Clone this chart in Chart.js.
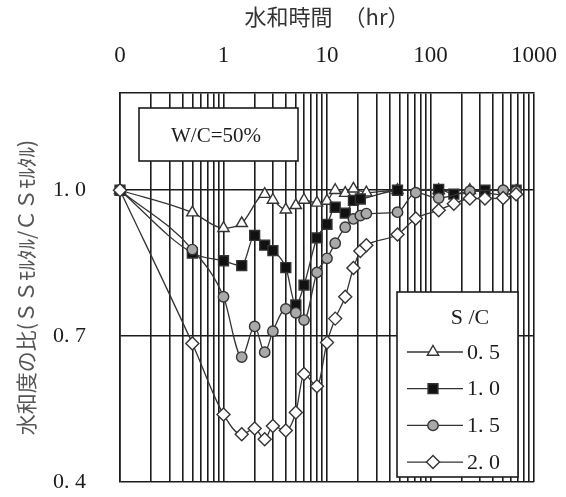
<!DOCTYPE html>
<html>
<head>
<meta charset="utf-8">
<script src="https://cdn.jsdelivr.net/npm/chart.js"></script>
<style>
  html, body { margin: 0; padding: 0; background: #fff; }
  #wrap { width: 566px; height: 497px; }
</style>
</head>
<body>
<div id="wrap"><canvas id="chart"></canvas></div>
<script>
// hydration time (hr); the 0 hour point sits on the left edge of the log axis
const hours = [0, 0.5, 1, 1.5, 2, 2.5, 3, 4, 5, 6, 8, 10, 12, 15, 18, 21, 24, 48, 72, 120, 168, 240, 336, 504, 672];
const ZERO_AT = 0.1;

// hydration degree ratio (SS mortar / CS mortar), null = no marker
const sc05 = [1.0, 0.954, 0.922, 0.932, null, 0.992, 0.980, 0.960, 0.969, 0.980, 0.974, 0.978, 1.0, 0.994, 1.003, null, 0.995, 1.0, null, 1.0, null, 1.0, null, 0.99, 0.998];
const sc10 = [1.0, 0.871, 0.855, 0.845, 0.907, 0.887, 0.876, 0.841, 0.764, 0.805, 0.902, 0.930, 0.965, 0.953, 0.979, 0.982, null, 1.0, null, 1.002, 0.992, null, 1.0, null, 1.0];
const sc15 = [1.0, 0.878, 0.781, 0.657, 0.720, 0.667, 0.710, 0.756, 0.748, 0.733, 0.831, 0.860, 0.891, 0.924, 0.941, 0.948, 0.952, 0.955, 0.995, 0.984, null, 0.998, null, 1.0, 0.998];
const sc20 = [1.0, 0.685, 0.539, 0.498, 0.510, 0.488, 0.515, 0.506, 0.543, 0.622, 0.597, 0.687, 0.736, 0.781, 0.840, 0.875, 0.887, 0.909, 0.942, 0.959, 0.972, 0.983, 0.983, 0.984, 0.992];

const seriesLabels = ['0. 5', '1. 0', '1. 5', '2. 0'];
const xTicks = [0.1, 1, 10, 100, 1000];
const xTickLabels = ['0', '1', '10', '100', '1000'];
const yTicks = [0.4, 0.7, 1.0];
const yTickLabels = ['0. 4', '0. 7', '1. 0'];
const xTitle = '水和時間　（hr）';
const yTitle = '水和度の比(ＳＳﾓﾙﾀﾙ/ＣＳﾓﾙﾀﾙ)';
const noteText = 'W/C=50%';
const legendTitle = 'S /C';

const SERIF = "'Liberation Serif', 'DejaVu Serif', serif";
const CJK = "'Noto Sans CJK JP', 'Noto Sans', sans-serif";
const INK = '#1c1c1c';

function toPoints(values) {
    return hours
        .map((h, i) => ({ x: h === 0 ? ZERO_AT : h, y: values[i] }))
        .filter(p => p.y !== null);
}

// every 1..9 x 10^n line of the log grid
function logGrid(min, max) {
    const out = [];
    for (let d = min; d < max; d *= 10) {
        for (let m = 1; m < 10; m++) out.push(m * d);
    }
    out.push(max);
    return out;
}

function makeSeries(label, values, style, radius, fill, order) {
    return {
        label,
        data: toPoints(values),
        borderColor: '#333',
        borderWidth: 1.3,
        cubicInterpolationMode: 'monotone',
        pointStyle: style,
        pointRadius: radius,
        pointBackgroundColor: fill,
        pointBorderColor: '#333',
        pointBorderWidth: 1.4,
        clip: false,
        order
    };
}

// boxes drawn over the grid: the W/C note and the S/C legend
const boxPlugin = {
    id: 'boxes',
    afterDraw(chart) {
        const ctx = chart.ctx;
        ctx.save();
        ctx.lineWidth = 1.6;
        ctx.strokeStyle = INK;
        ctx.fillStyle = '#fff';
        ctx.fillRect(139, 108, 159, 53);
        ctx.strokeRect(139, 108, 159, 53);
        ctx.fillStyle = INK;
        ctx.font = `21px ${SERIF}`;
        ctx.textAlign = 'center';
        ctx.textBaseline = 'middle';
        ctx.fillText(noteText, 216, 136);

        ctx.fillStyle = '#fff';
        ctx.fillRect(397, 292, 121, 185);
        ctx.strokeRect(397, 292, 121, 185);
        ctx.fillStyle = INK;
        ctx.font = `22px ${SERIF}`;
        ctx.fillText(legendTitle, 470, 318);

        chart.data.datasets.forEach((ds, i) => {
            const y = 352 + i * 36.7;
            ctx.strokeStyle = ds.borderColor;
            ctx.lineWidth = ds.borderWidth;
            ctx.beginPath();
            ctx.moveTo(407, y);
            ctx.lineTo(463, y);
            ctx.stroke();
            ctx.fillStyle = ds.pointBackgroundColor;
            ctx.strokeStyle = ds.pointBorderColor;
            ctx.lineWidth = ds.pointBorderWidth;
            Chart.helpers.drawPoint(ctx, {
                pointStyle: ds.pointStyle, radius: ds.pointRadius,
                rotation: 0, borderWidth: ds.pointBorderWidth
            }, 433, y);
            ctx.fillStyle = INK;
            ctx.textAlign = 'left';
            ctx.font = `22px ${SERIF}`;
            ctx.fillText(ds.label, 467, y + 1);
        });
        ctx.restore();
    }
};

new Chart(document.getElementById('chart'), {
    type: 'line',
    data: {
        datasets: [
            makeSeries(seriesLabels[0], sc05, 'triangle', 6.5, '#fff', 3),
            makeSeries(seriesLabels[1], sc10, 'rect', 7, '#111', 2),
            makeSeries(seriesLabels[2], sc15, 'circle', 5.2, '#a9a9a9', 1),
            makeSeries(seriesLabels[3], sc20, 'rectRot', 6.5, '#fff', 0)
        ]
    },
    options: {
        responsive: true,
        maintainAspectRatio: false,
        animation: false,
        layout: { padding: { left: 0, right: 32, top: 0, bottom: 15 } },
        plugins: {
            legend: { display: false },
            tooltip: { enabled: false }
        },
        scales: {
            x: {
                type: 'logarithmic',
                position: 'top',
                min: 0.1,
                max: 1000,
                afterFit: s => { s.height = 93; s.paddingLeft = 0; s.paddingRight = 0; },
                afterBuildTicks: s => { s.ticks = logGrid(0.1, 1000).map(v => ({ value: v })); },
                grid: { color: INK, lineWidth: 1.6, drawTicks: false },
                border: { color: INK, width: 1.6 },
                ticks: {
                    autoSkip: false,
                    maxRotation: 0,
                    padding: 23,
                    color: INK,
                    font: { family: SERIF, size: 23 },
                    callback: v => {
                        const i = xTicks.findIndex(t => Math.abs(t - v) / t < 1e-6);
                        return i >= 0 ? xTickLabels[i] : '';
                    }
                },
                title: {
                    display: true,
                    text: xTitle,
                    color: '#333',
                    font: { family: CJK, size: 22 },
                    padding: { top: 3, bottom: 0 }
                }
            },
            y: {
                type: 'linear',
                min: 0.4,
                max: 1.2,
                afterFit: s => { s.width = 120; s.paddingTop = 0; s.paddingBottom = 0; },
                afterBuildTicks: s => { s.ticks = yTicks.map(v => ({ value: v })); },
                grid: { color: INK, lineWidth: 1.6, drawTicks: false },
                border: { color: INK, width: 1.6 },
                ticks: {
                    padding: 34,
                    color: INK,
                    font: { family: SERIF, size: 22 },
                    callback: v => {
                        const i = yTicks.findIndex(t => Math.abs(t - v) < 1e-6);
                        return i >= 0 ? yTickLabels[i] : '';
                    }
                },
                title: {
                    display: true,
                    text: yTitle,
                    color: '#555',
                    font: { family: CJK, size: 21 },
                    padding: { top: 13, bottom: 0 }
                }
            }
        }
    },
    plugins: [boxPlugin]
});
</script>
</body>
</html>
